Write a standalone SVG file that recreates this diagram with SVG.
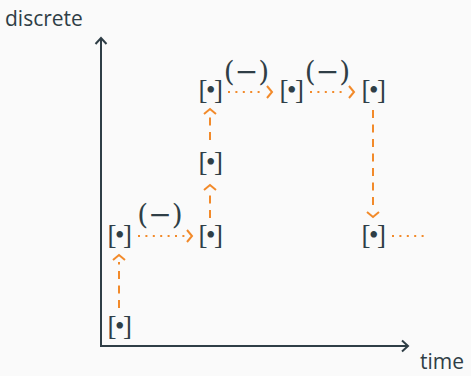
<svg xmlns="http://www.w3.org/2000/svg" width="471" height="376" viewBox="0 0 471 376">
  <style>
    .axis { stroke: #2f3e46; stroke-width: 2; fill: none; }
    .lbl { font-family: "Open Sans", "DejaVu Sans", sans-serif; font-size: 21px; fill: #2f3e46; }
    .node { font-family: "Liberation Serif", "DejaVu Serif", serif; font-size: 27px; fill: #2f3e46; text-anchor: middle; letter-spacing: -1.5px; }
    .op { font-family: "DejaVu Serif", serif; font-size: 28px; fill: #2f3e46; text-anchor: middle; }
    .step { stroke: #f28a2a; stroke-width: 2; fill: none; }
    .dash { stroke-dasharray: 8 6.5; }
    .dot { stroke-dasharray: 2 5.4; }
  </style>
  <defs>
    <marker id="ax" markerUnits="userSpaceOnUse" markerWidth="14" markerHeight="14" viewBox="-8 -7 10 14" refX="0" refY="0" orient="auto">
      <path d="M-6,-5.5 L0,0 L-6,5.5" fill="none" stroke="#2f3e46" stroke-width="2"/>
    </marker>
    <marker id="hd" markerUnits="userSpaceOnUse" markerWidth="14" markerHeight="14" viewBox="0 -7 10 14" refX="0" refY="0" orient="auto">
      <path d="M2,-6 L7,0 L2,6" fill="none" stroke="#f28a2a" stroke-width="2"/>
    </marker>
  </defs>
  <rect width="471" height="376" fill="#fafafa"/>

  <!-- axes -->
  <g id="axes">
    <path class="axis" d="M101,346 L101,38" marker-end="url(#ax)"/>
    <path class="axis" d="M100,346 L408,346" marker-end="url(#ax)"/>
    <text class="lbl" x="5" y="26">discrete</text>
    <text class="lbl" x="420" y="369">time</text>
  </g>

  <!-- transitions -->
  <g id="connectors">
    <path class="step dash" d="M119,308 L119,262" marker-end="url(#hd)"/>
    <path class="step dot" d="M138,236 L185,236" marker-end="url(#hd)"/>
    <path class="step dash" d="M210,218 L210,192" marker-end="url(#hd)"/>
    <path class="step dash" d="M210,140 L210,116" marker-end="url(#hd)"/>
    <path class="step dot" d="M228,92 L265,92" marker-end="url(#hd)"/>
    <path class="step dot" d="M310,92 L347,92" marker-end="url(#hd)"/>
    <path class="step dash" d="M373,110 L373,210" marker-end="url(#hd)"/>
    <path class="step dot" d="M392,236 L425,236"/>
    <text class="op" x="160" y="224">(−)</text>
    <text class="op" x="246.5" y="81">(−)</text>
    <text class="op" x="327.5" y="81">(−)</text>
  </g>

  <!-- states -->
  <g id="s0"><text class="node" x="119" y="335">[•]</text></g>
  <g id="s1"><text class="node" x="119" y="244">[•]</text></g>
  <g id="s2"><text class="node" x="210" y="244">[•]</text></g>
  <g id="s3"><text class="node" x="210" y="171">[•]</text></g>
  <g id="s4"><text class="node" x="210" y="99">[•]</text></g>
  <g id="s5"><text class="node" x="291" y="99">[•]</text></g>
  <g id="s6"><text class="node" x="373" y="99">[•]</text></g>
  <g id="s7"><text class="node" x="373" y="244">[•]</text></g>
</svg>
